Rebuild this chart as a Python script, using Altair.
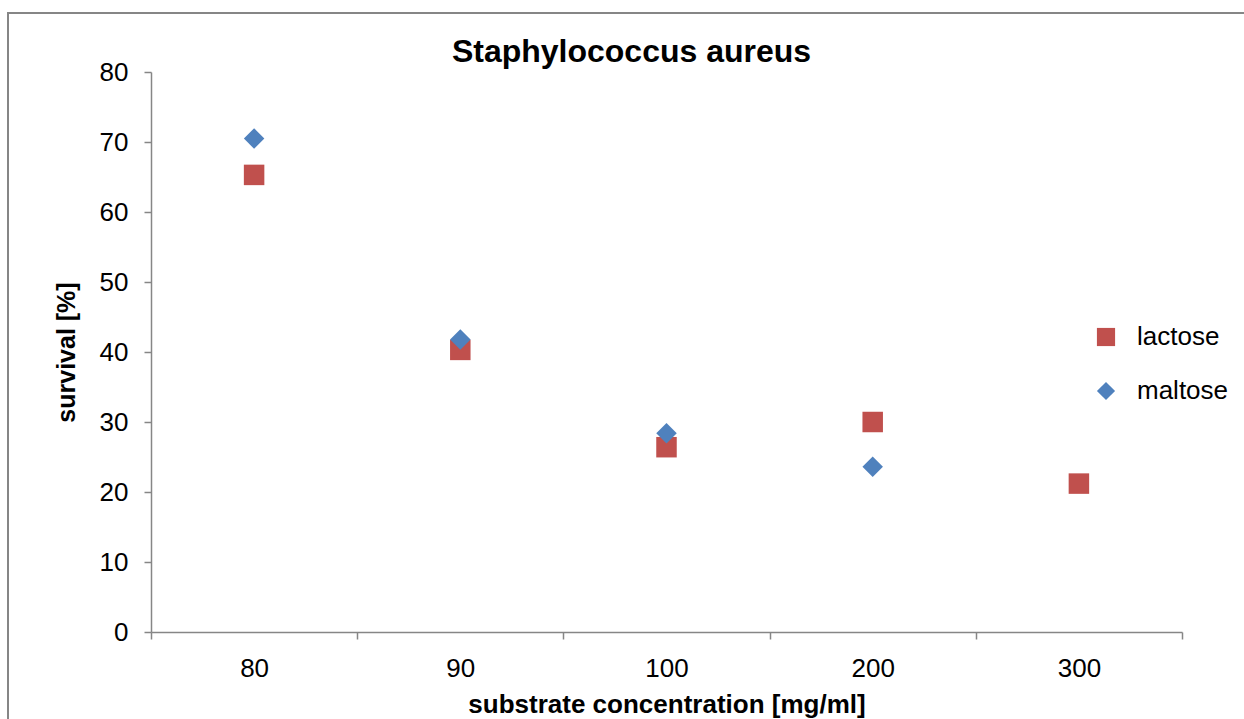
import altair as alt
import pandas as pd

categories = ["80", "90", "100", "200", "300"]
lactose = [65.3, 40.3, 26.4, 30.0, 21.2]
maltose_cats = ["80", "90", "100", "200"]
maltose = [70.5, 41.8, 28.4, 23.6]
series = ["lactose", "maltose"]
colors = ["#C0504D", "#4F81BD"]
shapes = ["square", "diamond"]

rows = [{"conc": c, "survival": v, "series": "lactose"} for c, v in zip(categories, lactose)]
rows += [{"conc": c, "survival": v, "series": "maltose"} for c, v in zip(maltose_cats, maltose)]
df = pd.DataFrame(rows)

FONT = "Liberation Sans"
GRAY = "#868686"

points = alt.Chart(df).mark_point(filled=True, opacity=1, size=420).encode(
    x=alt.X("conc:N", sort=categories,
            scale=alt.Scale(type="band", domain=categories, paddingInner=0, paddingOuter=0),
            axis=alt.Axis(title="substrate concentration [mg/ml]", labelAngle=0,
                          tickBand="extent", tickSize=7, tickColor=GRAY, tickWidth=1.5,
                          domainColor=GRAY, domainWidth=1.5, grid=False,
                          labelFont=FONT, labelFontSize=26, labelColor="#000000", labelPadding=16,
                          titleFont=FONT, titleFontSize=26, titleFontWeight="bold",
                          titleColor="#000000", titlePadding=10)),
    y=alt.Y("survival:Q", scale=alt.Scale(domain=[0, 80], nice=False),
            axis=alt.Axis(title="survival [%]", values=list(range(0, 81, 10)),
                          tickSize=7, tickColor=GRAY, tickWidth=1.5,
                          domainColor=GRAY, domainWidth=1.5, grid=False,
                          labelFont=FONT, labelFontSize=26, labelColor="#000000", labelPadding=16,
                          titleFont=FONT, titleFontSize=25, titleFontWeight="bold",
                          titleColor="#000000", titlePadding=20)),
    color=alt.Color("series:N", scale=alt.Scale(domain=series, range=colors),
                    legend=alt.Legend(title=None, orient="none", legendX=942, legendY=252,
                                      symbolSize=330, labelFont=FONT, labelFontSize=26,
                                      labelColor="#000000", labelOffset=18, rowPadding=28,
                                      symbolOpacity=1)),
    shape=alt.Shape("series:N", scale=alt.Scale(domain=series, range=shapes), legend=None),
)

frame = alt.Chart(pd.DataFrame({"a": [0]})).mark_rect(
    fill="transparent", stroke=GRAY, strokeWidth=2
).encode(
    x=alt.value(-143), x2=alt.value(1110), y=alt.value(-59), y2=alt.value(660)
)

chart = alt.layer(frame, points).properties(
    width=1031, height=560,
    title=alt.TitleParams("Staphylococcus aureus", font=FONT, fontSize=32, fontWeight="bold",
                          color="#000000", anchor="middle", dx=-35, offset=-57),
    autosize=alt.AutoSizeParams(type="none"),
    padding={"left": 151, "top": 72, "right": 62, "bottom": 87},
    background="white",
).configure_view(strokeWidth=0)

chart.save("out.html", embed_options={"renderer": "svg", "actions": False})
